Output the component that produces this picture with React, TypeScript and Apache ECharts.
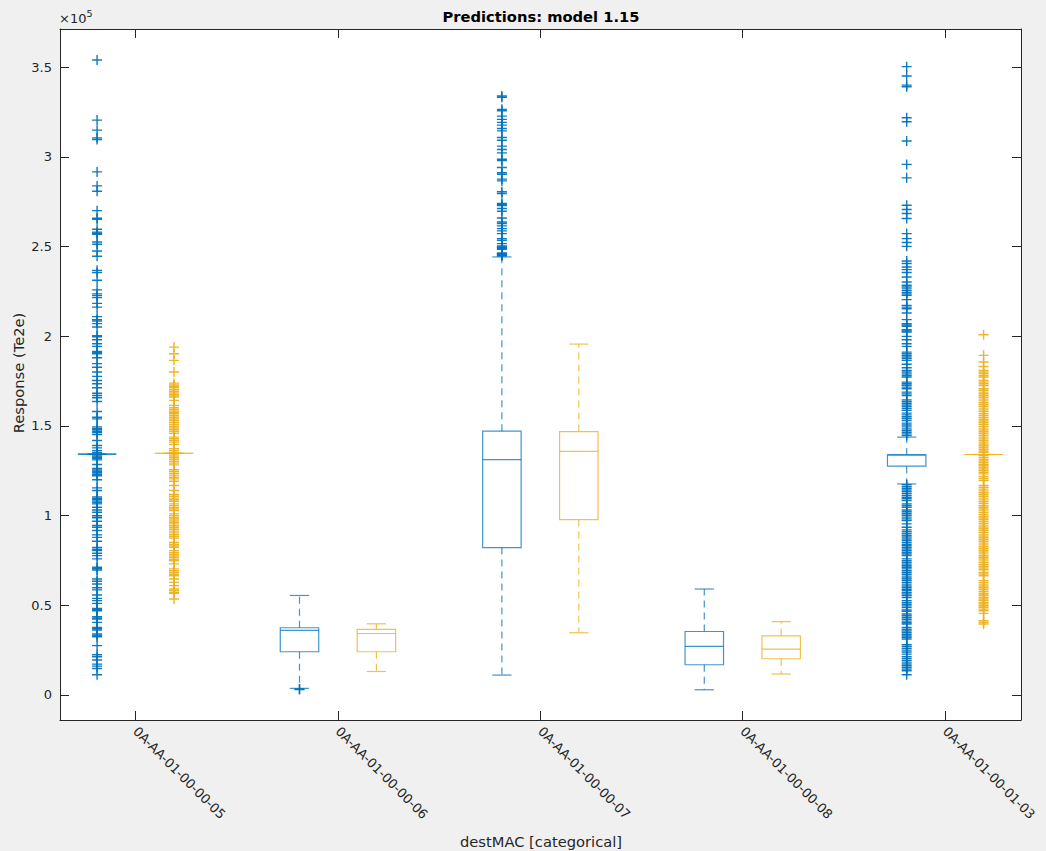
import React, { useEffect, useRef } from 'react';
import * as echarts from 'echarts';

// ---------- data (values in units of 1e5) ----------
const categories = [
  '0A-AA-01-00-00-05',
  '0A-AA-01-00-00-06',
  '0A-AA-01-00-00-07',
  '0A-AA-01-00-00-08',
  '0A-AA-01-00-01-03',
];
const categoryPositions = [1, 2, 3, 4, 5];
const yTicks = [0, 0.5, 1, 1.5, 2, 2.5, 3, 3.5];

// box statistics: [lower whisker, Q1, median, Q3, upper whisker]
const blueStats = [
  [1.342, 1.342, 1.342, 1.342, 1.342],
  [0.036, 0.24, 0.359, 0.374, 0.554],
  [0.11, 0.821, 1.312, 1.47, 2.442],
  [0.028, 0.1675, 0.27, 0.353, 0.59],
  [1.176, 1.275, 1.338, 1.338, 1.437],
];
const orangeStats = [
  [1.347, 1.347, 1.347, 1.347, 1.347],
  [0.13, 0.24, 0.342, 0.365, 0.396],
  [0.346, 0.977, 1.357, 1.468, 1.956],
  [0.116, 0.201, 0.255, 0.329, 0.408],
  [1.34, 1.34, 1.34, 1.34, 1.34],
];

// outliers
const blueOut05 = [3.540, 3.205, 3.149, 3.106, 3.097, 2.916, 2.838, 2.808, 2.700, 2.658, 2.652, 2.596, 2.580, 2.574, 2.568, 2.525, 2.513, 2.475, 2.446, 2.367, 2.355, 2.312, 2.258, 2.236, 2.226, 2.215, 2.183, 2.162, 2.109, 2.092, 2.085, 2.070, 2.051, 2.003, 1.997, 1.980, 1.958, 1.943, 1.915, 1.908, 1.902, 1.880, 1.847, 1.827, 1.800, 1.776, 1.753, 1.735, 1.712, 1.682, 1.669, 1.657, 1.636, 1.580, 1.548, 1.539, 1.494, 1.486, 1.478, 1.470, 1.462, 1.452, 1.418, 1.390, 1.377, 1.362, 1.351, 1.340, 1.332, 1.325, 1.317, 1.310, 1.284, 1.262, 1.254, 1.246, 1.238, 1.230, 1.222, 1.199, 1.154, 1.139, 1.104, 1.096, 1.088, 1.080, 1.072, 1.065, 1.046, 1.031, 1.018, 0.999, 0.991, 0.987, 0.968, 0.944, 0.934, 0.916, 0.892, 0.878, 0.856, 0.822, 0.812, 0.804, 0.789, 0.776, 0.758, 0.711, 0.703, 0.696, 0.646, 0.633, 0.618, 0.597, 0.585, 0.557, 0.538, 0.525, 0.510, 0.482, 0.474, 0.469, 0.436, 0.428, 0.423, 0.404, 0.376, 0.368, 0.361, 0.339, 0.331, 0.324, 0.274, 0.223, 0.212, 0.194, 0.171, 0.160, 0.147, 0.112];
const blueOut06 = [0.032, 0.030];
const blueOut07 = [3.339, 3.332, 3.265, 3.257, 3.227, 3.209, 3.192, 3.177, 3.158, 3.145, 3.108, 3.093, 3.060, 3.041, 3.022, 2.987, 2.980, 2.941, 2.911, 2.903, 2.876, 2.866, 2.805, 2.796, 2.740, 2.734, 2.729, 2.712, 2.697, 2.659, 2.637, 2.628, 2.615, 2.600, 2.587, 2.572, 2.544, 2.535, 2.516, 2.503, 2.498, 2.494, 2.489, 2.485, 2.464, 2.460, 2.457, 2.451, 2.447];
const blueOut08: number[] = [];
const blueOut0103 = [3.503, 3.451, 3.400, 3.391, 3.218, 3.196, 3.088, 2.958, 2.883, 2.730, 2.706, 2.684, 2.656, 2.572, 2.544, 2.522, 2.501, 2.419, 2.405, 2.386, 2.371, 2.355, 2.330, 2.302, 2.284, 2.274, 2.264, 2.254, 2.244, 2.236, 2.228, 2.204, 2.172, 2.162, 2.153, 2.129, 2.092, 2.070, 2.062, 2.055, 2.036, 2.029, 2.023, 1.999, 1.980, 1.958, 1.943, 1.911, 1.902, 1.893, 1.884, 1.875, 1.865, 1.843, 1.824, 1.809, 1.800, 1.790, 1.781, 1.772, 1.744, 1.735, 1.726, 1.716, 1.707, 1.688, 1.678, 1.669, 1.645, 1.636, 1.626, 1.616, 1.606, 1.596, 1.586, 1.571, 1.561, 1.551, 1.541, 1.530, 1.515, 1.505, 1.494, 1.483, 1.474, 1.464, 1.455, 1.446, 1.172, 1.162, 1.152, 1.142, 1.132, 1.122, 1.112, 1.102, 1.093, 1.083, 1.065, 1.056, 1.046, 1.031, 1.021, 1.011, 1.001, 0.991, 0.981, 0.972, 0.953, 0.934, 0.920, 0.910, 0.900, 0.890, 0.880, 0.869, 0.860, 0.850, 0.840, 0.831, 0.822, 0.813, 0.803, 0.794, 0.785, 0.776, 0.758, 0.748, 0.738, 0.729, 0.720, 0.711, 0.702, 0.692, 0.682, 0.672, 0.662, 0.652, 0.646, 0.637, 0.627, 0.617, 0.607, 0.597, 0.588, 0.581, 0.571, 0.562, 0.553, 0.543, 0.525, 0.515, 0.505, 0.496, 0.487, 0.473, 0.465, 0.451, 0.441, 0.431, 0.421, 0.411, 0.402, 0.395, 0.376, 0.366, 0.356, 0.346, 0.336, 0.328, 0.320, 0.311, 0.279, 0.269, 0.259, 0.249, 0.239, 0.227, 0.212, 0.202, 0.192, 0.182, 0.172, 0.162, 0.152, 0.143, 0.134, 0.112];

const orangeOut05 = [1.939, 1.902, 1.865, 1.800, 1.738, 1.728, 1.720, 1.712, 1.701, 1.692, 1.683, 1.674, 1.666, 1.660, 1.642, 1.614, 1.601, 1.591, 1.582, 1.574, 1.567, 1.558, 1.548, 1.538, 1.528, 1.518, 1.508, 1.498, 1.488, 1.478, 1.468, 1.458, 1.437, 1.428, 1.418, 1.409, 1.396, 1.372, 1.362, 1.352, 1.342, 1.332, 1.322, 1.312, 1.302, 1.292, 1.282, 1.255, 1.245, 1.235, 1.225, 1.213, 1.204, 1.191, 1.167, 1.139, 1.117, 1.107, 1.097, 1.088, 1.079, 1.065, 1.055, 1.045, 1.036, 1.027, 1.009, 0.999, 0.989, 0.980, 0.970, 0.962, 0.953, 0.943, 0.933, 0.923, 0.913, 0.903, 0.893, 0.883, 0.874, 0.850, 0.840, 0.830, 0.822, 0.804, 0.794, 0.784, 0.774, 0.764, 0.754, 0.748, 0.730, 0.702, 0.692, 0.682, 0.672, 0.664, 0.646, 0.627, 0.609, 0.590, 0.580, 0.570, 0.566, 0.534];
const orangeOut06: number[] = [];
const orangeOut07: number[] = [];
const orangeOut08: number[] = [];
const orangeOut0103 = [2.008, 1.893, 1.856, 1.831, 1.809, 1.800, 1.791, 1.781, 1.772, 1.753, 1.744, 1.735, 1.725, 1.707, 1.698, 1.688, 1.679, 1.669, 1.659, 1.649, 1.639, 1.629, 1.619, 1.609, 1.599, 1.589, 1.580, 1.567, 1.557, 1.547, 1.537, 1.527, 1.517, 1.507, 1.497, 1.487, 1.477, 1.467, 1.457, 1.447, 1.437, 1.427, 1.418, 1.409, 1.399, 1.389, 1.379, 1.369, 1.360, 1.353, 1.334, 1.324, 1.314, 1.304, 1.294, 1.285, 1.279, 1.269, 1.259, 1.250, 1.241, 1.232, 1.217, 1.206, 1.195, 1.167, 1.157, 1.147, 1.137, 1.127, 1.117, 1.107, 1.097, 1.087, 1.077, 1.066, 1.055, 1.046, 1.036, 1.026, 1.016, 1.006, 0.996, 0.986, 0.976, 0.966, 0.956, 0.946, 0.936, 0.926, 0.916, 0.906, 0.896, 0.886, 0.876, 0.866, 0.856, 0.846, 0.836, 0.826, 0.816, 0.806, 0.796, 0.786, 0.776, 0.767, 0.757, 0.747, 0.737, 0.727, 0.717, 0.707, 0.697, 0.683, 0.674, 0.664, 0.637, 0.627, 0.617, 0.607, 0.597, 0.587, 0.577, 0.567, 0.562, 0.553, 0.543, 0.534, 0.525, 0.515, 0.506, 0.497, 0.488, 0.478, 0.469, 0.454, 0.413, 0.404, 0.395];

const blueOutliers = [blueOut05, blueOut06, blueOut07, blueOut08, blueOut0103];
const orangeOutliers = [orangeOut05, orangeOut06, orangeOut07, orangeOut08, orangeOut0103];

// ---------- styling ----------
const FONT = 'DejaVu Sans';
const AXIS_COLOR = '#262626';
const BLUE = '#0072BD';
const ORANGE = '#EDB120';
const BLUE_LINE = 'rgba(0,114,189,0.75)';
const ORANGE_LINE = 'rgba(237,177,32,0.8)';
const GROUP_OFFSET = 0.19;
const BOX_W = 0.19;
const X_MIN = 0.6267;
const X_MAX = 5.3748;
const Y_MIN = -0.1405;
const Y_MAX = 3.713;
const PLUS = 'path://M4.3,0H5.7V4.3H10V5.7H5.7V10H4.3V5.7H0V4.3H4.3Z';

function boxSeries(stats: number[][], offset: number, color: string) {
  return {
    type: 'custom',
    silent: true,
    z: 2,
    data: stats.map((s, i) => [categoryPositions[i] + offset, ...s]),
    encode: { x: 0, y: [1, 2, 3, 4, 5] },
    renderItem: (params: any, api: any) => {
      const x = api.value(0);
      const lo = api.coord([x, api.value(1)]);
      const q1 = api.coord([x, api.value(2)]);
      const med = api.coord([x, api.value(3)]);
      const q3 = api.coord([x, api.value(4)]);
      const hi = api.coord([x, api.value(5)]);
      const cx = lo[0];
      const half = api.size([BOX_W, 0])[0] / 2;
      const cap = half / 2;
      const solid = { stroke: color, lineWidth: 1.2, fill: 'none' };
      const dashed = { stroke: color, lineWidth: 1.2, lineDash: [7, 5], fill: 'none' };
      const children: any[] = [];
      if (hi[1] < q3[1] - 0.5) {
        children.push({ type: 'line', shape: { x1: cx, y1: q3[1], x2: cx, y2: hi[1] }, style: dashed });
      }
      if (lo[1] > q1[1] + 0.5) {
        children.push({ type: 'line', shape: { x1: cx, y1: q1[1], x2: cx, y2: lo[1] }, style: dashed });
      }
      children.push({ type: 'line', shape: { x1: cx - cap, y1: hi[1], x2: cx + cap, y2: hi[1] }, style: solid });
      children.push({ type: 'line', shape: { x1: cx - cap, y1: lo[1], x2: cx + cap, y2: lo[1] }, style: solid });
      children.push({
        type: 'rect',
        shape: { x: cx - half, y: q3[1], width: half * 2, height: Math.max(q1[1] - q3[1], 0) },
        style: solid,
      });
      children.push({ type: 'line', shape: { x1: cx - half, y1: med[1], x2: cx + half, y2: med[1] }, style: solid });
      return { type: 'group', children };
    },
  };
}

function outlierSeries(lists: number[][], offset: number, color: string) {
  const data: number[][] = [];
  lists.forEach((list, i) => {
    list.forEach((v) => data.push([categoryPositions[i] + offset, v]));
  });
  return {
    type: 'scatter',
    silent: true,
    z: 3,
    symbol: PLUS,
    symbolSize: 10,
    itemStyle: { color, opacity: 0.95 },
    data,
  };
}

export default function App() {
  const ref = useRef<HTMLDivElement>(null);
  useEffect(() => {
    if (!ref.current) return;
    const chart = echarts.init(ref.current, null, { renderer: 'svg' });
    const axisLine = { show: true, onZero: false, lineStyle: { color: AXIS_COLOR, width: 1 } };
    const tickStyle = { color: AXIS_COLOR, width: 1 };
    const xBase = {
      type: 'value',
      min: X_MIN,
      max: X_MAX,
      splitLine: { show: false },
      axisLine,
      axisTick: { show: true, inside: true, length: 9, customValues: categoryPositions, lineStyle: tickStyle },
    };
    const yBase = {
      type: 'value',
      min: Y_MIN,
      max: Y_MAX,
      splitLine: { show: false },
      axisLine,
      axisTick: { show: true, inside: true, length: 9, customValues: yTicks, lineStyle: tickStyle },
    };
    chart.setOption({
      animation: false,
      backgroundColor: '#f0f0f0',
      textStyle: { fontFamily: FONT },
      grid: {
        left: 60,
        top: 29,
        width: 961,
        height: 691,
        show: true,
        backgroundColor: '#ffffff',
        borderWidth: 0,
        containLabel: false,
        outerBoundsMode: 'none',
      },
      xAxis: [
        {
          ...xBase,
          position: 'bottom',
          axisLabel: {
            show: true,
            customValues: categoryPositions,
            formatter: (v: number) => categories[Math.round(v) - 1] ?? '',
            rotate: -45,
            margin: 9,
            color: AXIS_COLOR,
            fontSize: 13,
            fontFamily: FONT,
          },
        },
        { ...xBase, position: 'top', axisLabel: { show: false } },
      ],
      yAxis: [
        {
          ...yBase,
          position: 'left',
          axisLabel: {
            show: true,
            customValues: yTicks,
            margin: 8,
            color: AXIS_COLOR,
            fontSize: 13,
            fontFamily: FONT,
          },
        },
        { ...yBase, position: 'right', axisLabel: { show: false } },
      ],
      graphic: [
        {
          type: 'text',
          x: 541,
          y: 16.5,
          style: {
            text: 'Predictions: model 1.15',
            fontFamily: FONT,
            fontSize: 14.7,
            fontWeight: 'bold',
            fill: '#000',
            align: 'center',
            verticalAlign: 'middle',
          },
        },
        {
          type: 'text',
          x: 59,
          y: 12,
          style: { text: '×10', fontFamily: FONT, fontSize: 13, fill: AXIS_COLOR, align: 'left', verticalAlign: 'top' },
        },
        {
          type: 'text',
          x: 86.5,
          y: 8.5,
          style: { text: '5', fontFamily: FONT, fontSize: 9.5, fill: AXIS_COLOR, align: 'left', verticalAlign: 'top' },
        },
        {
          type: 'text',
          x: 18.5,
          y: 373,
          rotation: Math.PI / 2,
          style: {
            text: 'Response (Te2e)',
            fontFamily: FONT,
            fontSize: 14.7,
            fill: AXIS_COLOR,
            align: 'center',
            verticalAlign: 'middle',
          },
        },
        {
          type: 'text',
          x: 541,
          y: 841,
          style: {
            text: 'destMAC [categorical]',
            fontFamily: FONT,
            fontSize: 14.7,
            fill: AXIS_COLOR,
            align: 'center',
            verticalAlign: 'middle',
          },
        },
      ],
      series: [
        boxSeries(blueStats, -GROUP_OFFSET, BLUE_LINE),
        boxSeries(orangeStats, GROUP_OFFSET, ORANGE_LINE),
        outlierSeries(blueOutliers, -GROUP_OFFSET, BLUE),
        outlierSeries(orangeOutliers, GROUP_OFFSET, ORANGE),
      ],
    });
    return () => chart.dispose();
  }, []);
  return (
    <div
      ref={ref}
      style={{ position: 'fixed', left: 0, top: 0, width: 1046, height: 851, background: '#f0f0f0' }}
    />
  );
}
